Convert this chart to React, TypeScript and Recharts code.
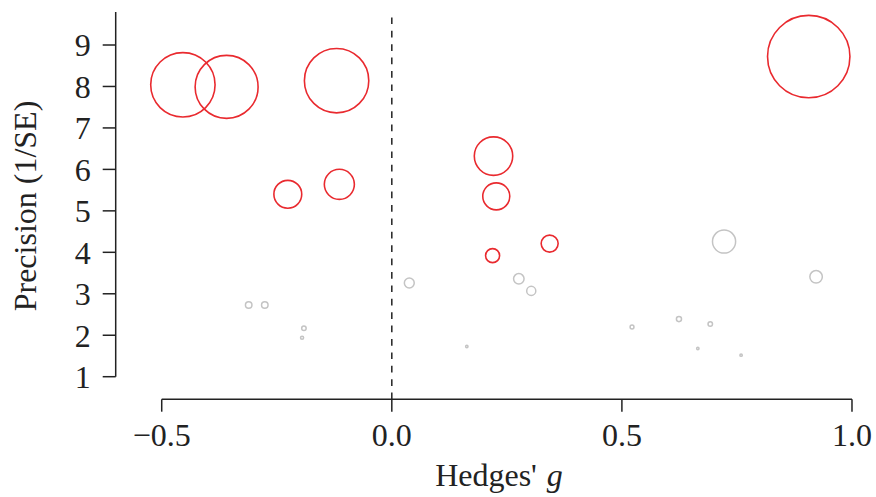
import React from "react";
import {
  ScatterChart,
  Scatter,
  XAxis,
  YAxis,
  ZAxis,
  ReferenceLine,
} from "recharts";

// studies with high weight (red) and low weight (grey)
const redG = [-0.454, -0.359, -0.12, -0.226, -0.114, 0.221, 0.227, 0.219, 0.343, 0.906];
const redPrecision = [8.04, 7.99, 8.14, 5.4, 5.64, 6.32, 5.35, 3.92, 4.21, 8.72];
const redWeight = [61.7, 59.1, 61.7, 12.3, 14.2, 22.7, 11.6, 3.45, 4.9, 100];

const greyG = [
  -0.311, -0.276, -0.191, -0.195, 0.038, 0.163, 0.276, 0.303, 0.522, 0.624, 0.692,
  0.665, 0.759, 0.722, 0.922,
];
const greyPrecision = [
  2.73, 2.73, 2.17, 1.94, 3.26, 1.73, 3.36, 3.07, 2.2, 2.39, 2.27, 1.68, 1.52, 4.26,
  3.41,
];
const greyWeight = [
  0.91, 0.91, 0.51, 0.3, 1.84, 0.16, 2.04, 1.59, 0.41, 0.62, 0.51, 0.16, 0.16, 8.6,
  2.78,
];

const xTicks = [-0.5, 0, 0.5, 1];
const yTicks = [1, 2, 3, 4, 5, 6, 7, 8, 9];

const X_DOMAIN = [-0.6, 1.05];
const Y_DOMAIN = [0.455, 9.796];

const RED = "#e92a2f";
const GREY = "#c4c4c4";
const INK = "#222";
const FONT = "'Liberation Serif', 'Times New Roman', serif";

const redData = redG.map((g, i) => ({ g, p: redPrecision[i], w: redWeight[i] }));
const greyData = greyG.map((g, i) => ({ g, p: greyPrecision[i], w: greyWeight[i] }));

const fmtX = (v: number) => (v < 0 ? "\u2212" : "") + Math.abs(v).toFixed(1);

function ring(color: string, sw: number) {
  return (props: any) => {
    const { cx, cy, width, size } = props;
    const r = width ? width / 2 : Math.sqrt((size || 0) / Math.PI);
    return <circle cx={cx} cy={cy} r={Math.max(r - sw / 2, 1.2)} fill="none" stroke={color} strokeWidth={sw} />;
  };
}

export default function App() {
  return (
    <div style={{ position: "absolute", left: 0, top: 0, fontFamily: FONT }}>
      <ScatterChart
        width={876}
        height={497}
        margin={{ top: 12, right: 1, bottom: 37.7, left: 55.7 }}
      >
        <XAxis
          type="number"
          dataKey="g"
          domain={X_DOMAIN}
          ticks={xTicks}
          interval={0}
          allowDataOverflow
          height={60}
          axisLine={false}
          tickSize={12.4}
          tickMargin={12}
          tickLine={{ stroke: INK, strokeWidth: 1.5 }}
          tick={{ fill: INK, fontSize: 32, fontFamily: FONT }}
          tickFormatter={fmtX}
        />
        <YAxis
          type="number"
          dataKey="p"
          domain={Y_DOMAIN}
          ticks={yTicks}
          interval={0}
          allowDataOverflow
          width={60}
          axisLine={false}
          tickSize={13}
          tickMargin={12}
          tickLine={{ stroke: INK, strokeWidth: 1.5 }}
          tick={{ fill: INK, fontSize: 32, fontFamily: FONT }}
        />
        <ZAxis type="number" dataKey="w" domain={[0, 100]} range={[0, 100 * 17.64 * Math.PI]} />
        <ReferenceLine
          segment={[
            { x: X_DOMAIN[0], y: 1 },
            { x: X_DOMAIN[0], y: Y_DOMAIN[1] },
          ]}
          stroke={INK}
          strokeWidth={1.5}
          ifOverflow="visible"
        />
        <ReferenceLine
          segment={[
            { x: -0.5, y: Y_DOMAIN[0] },
            { x: 1, y: Y_DOMAIN[0] },
          ]}
          stroke={INK}
          strokeWidth={1.5}
          ifOverflow="visible"
        />
        <ReferenceLine x={0} stroke={INK} strokeWidth={1.5} strokeDasharray="6.7 6.7" />
        <Scatter data={greyData} shape={ring(GREY, 1.5)} isAnimationActive={false} />
        <Scatter data={redData} shape={ring(RED, 1.6)} isAnimationActive={false} />
        <text
          x={35.5}
          y={206}
          transform="rotate(-90, 35.5, 206)"
          textAnchor="middle"
          fontSize={32}
          fontFamily={FONT}
          fill={INK}
        >
          Precision (1/SE)
        </text>
        <text x={499} y={486} textAnchor="middle" fontSize={32} fontFamily={FONT} fill={INK}>
          Hedges'
          <tspan dx={10} fontStyle="italic">g</tspan>
        </text>
      </ScatterChart>
    </div>
  );
}
